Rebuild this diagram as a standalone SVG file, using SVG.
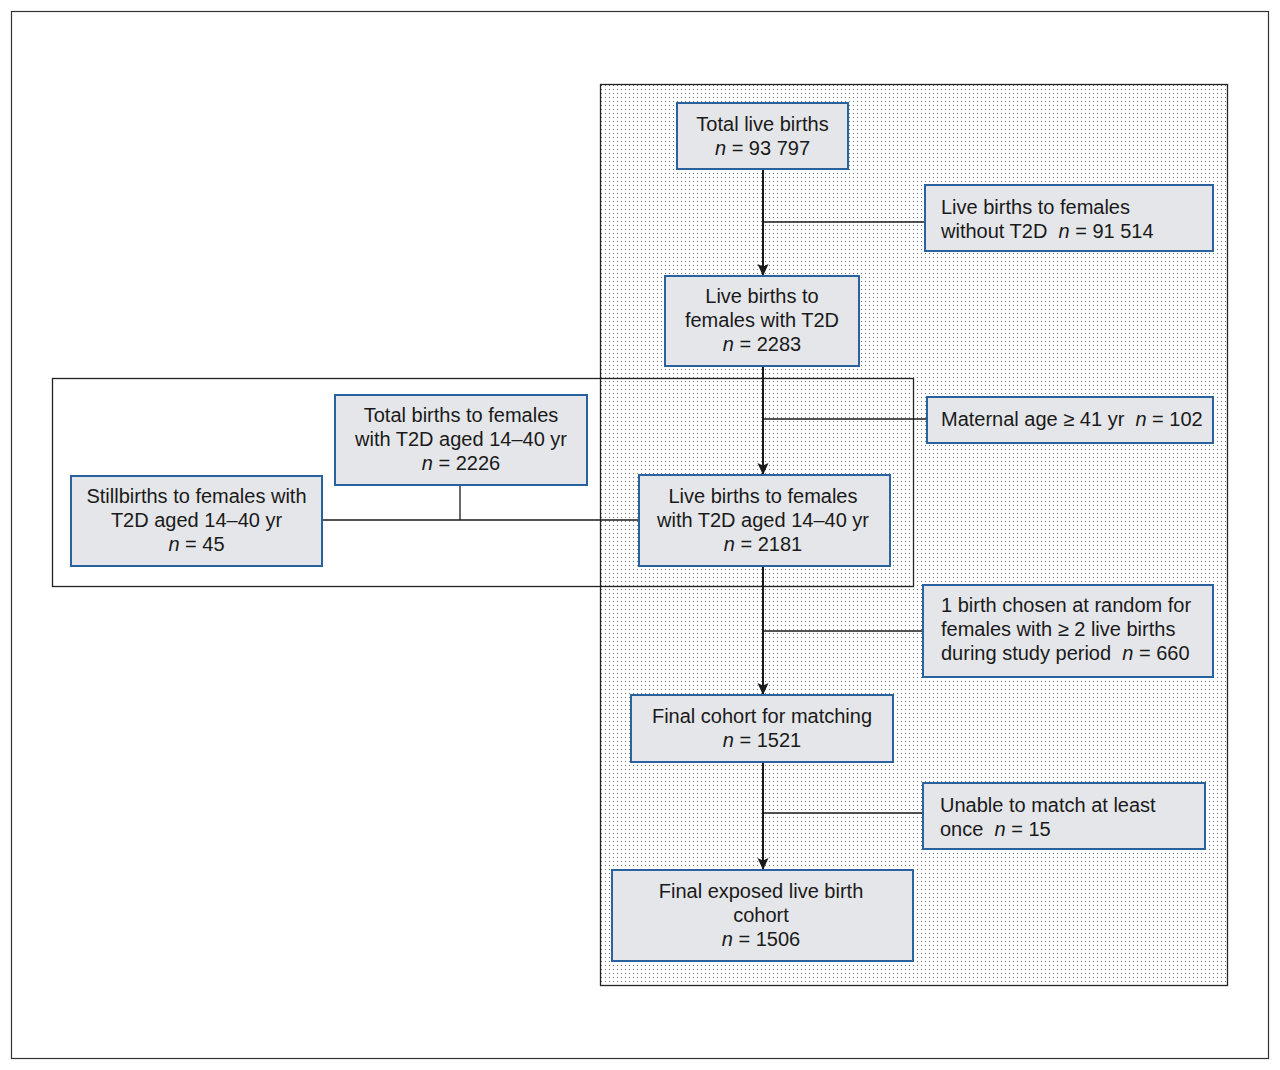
<svg xmlns="http://www.w3.org/2000/svg" width="1280" height="1070" viewBox="0 0 1280 1070">
<defs>
<pattern id="dots" x="0" y="0" width="4" height="4" patternUnits="userSpaceOnUse">
<rect width="4" height="4" fill="#ffffff"/>
<rect x="1" y="1" width="1" height="1" fill="#6e6e6e"/>
</pattern>
<marker id="arr" viewBox="0 0 12 12" refX="11" refY="6" markerWidth="12" markerHeight="12" markerUnits="userSpaceOnUse" orient="auto">
<path d="M0,0.5 L12,6 L0,11.5 L2.5,6 z" fill="#1a1a1a"/>
</marker>
<style>
.box{fill:#e5e6e9;stroke:#2a62a0;stroke-width:2}
.t{font-family:"Liberation Sans",Arial,sans-serif;font-size:20px;fill:#1a1a1a}
.c{text-anchor:middle}
.ln{stroke:#1a1a1a;stroke-width:1.3;fill:none}
.ar{stroke:#1a1a1a;stroke-width:2;fill:none}
</style>
</defs>
<rect x="0" y="0" width="1280" height="1070" fill="#ffffff"/>
<rect x="11.5" y="11.5" width="1257" height="1047" fill="none" stroke="#333" stroke-width="1.2"/>
<rect x="600.5" y="84.5" width="627" height="901" fill="url(#dots)" stroke="#222" stroke-width="1.3"/>
<rect x="52.5" y="378.5" width="861" height="208" fill="none" stroke="#222" stroke-width="1.3"/>

<g id="connectors">
<line class="ar" x1="763" y1="169" x2="763" y2="275" marker-end="url(#arr)"/>
<line class="ln" x1="763" y1="222" x2="925" y2="222"/>
<line class="ar" x1="763" y1="366" x2="763" y2="474" marker-end="url(#arr)"/>
<line class="ln" x1="763" y1="419" x2="927" y2="419"/>
<line class="ar" x1="763" y1="566" x2="763" y2="694" marker-end="url(#arr)"/>
<line class="ln" x1="763" y1="631" x2="923" y2="631"/>
<line class="ar" x1="763" y1="762" x2="763" y2="869" marker-end="url(#arr)"/>
<line class="ln" x1="763" y1="813" x2="923" y2="813"/>
<line class="ln" x1="322" y1="520" x2="639" y2="520"/>
<line class="ln" x1="460" y1="485" x2="460" y2="520"/>
</g>

<g id="n1"><rect class="box" x="677" y="103" width="171" height="66"/>
<text class="t c" x="762.5" y="131">Total live births</text>
<text class="t c" x="762.5" y="155"><tspan font-style="italic">n</tspan> = 93 797</text></g>

<g id="n2"><rect class="box" x="925" y="185" width="288" height="66"/>
<text class="t" x="941" y="214">Live births to females</text>
<text class="t" x="941" y="238" xml:space="preserve">without T2D  <tspan font-style="italic">n</tspan> = 91 514</text></g>

<g id="n3"><rect class="box" x="665" y="276" width="194" height="90"/>
<text class="t c" x="762" y="303">Live births to</text>
<text class="t c" x="762" y="327">females with T2D</text>
<text class="t c" x="762" y="351"><tspan font-style="italic">n</tspan> = 2283</text></g>

<g id="n4"><rect class="box" x="927" y="397" width="286" height="46"/>
<text class="t" x="941" y="426" xml:space="preserve">Maternal age ≥ 41 yr  <tspan font-style="italic">n</tspan> = 102</text></g>

<g id="n5"><rect class="box" x="335" y="395" width="252" height="90"/>
<text class="t c" x="461" y="422">Total births to females</text>
<text class="t c" x="461" y="446">with T2D aged 14–40 yr</text>
<text class="t c" x="461" y="470"><tspan font-style="italic">n</tspan> = 2226</text></g>

<g id="n6"><rect class="box" x="71" y="476" width="251" height="90"/>
<text class="t c" x="196.5" y="503">Stillbirths to females with</text>
<text class="t c" x="196.5" y="527">T2D aged 14–40 yr</text>
<text class="t c" x="196.5" y="551"><tspan font-style="italic">n</tspan> = 45</text></g>

<g id="n7"><rect class="box" x="639" y="475" width="251" height="91"/>
<text class="t c" x="763" y="503">Live births to females</text>
<text class="t c" x="763" y="527">with T2D aged 14–40 yr</text>
<text class="t c" x="763" y="551"><tspan font-style="italic">n</tspan> = 2181</text></g>

<g id="n8"><rect class="box" x="923" y="585" width="290" height="92"/>
<text class="t" x="941" y="612">1 birth chosen at random for</text>
<text class="t" x="941" y="636">females with ≥ 2 live births</text>
<text class="t" x="941" y="660" xml:space="preserve">during study period  <tspan font-style="italic">n</tspan> = 660</text></g>

<g id="n9"><rect class="box" x="631" y="695" width="262" height="67"/>
<text class="t c" x="762" y="723">Final cohort for matching</text>
<text class="t c" x="762" y="747"><tspan font-style="italic">n</tspan> = 1521</text></g>

<g id="n10"><rect class="box" x="923" y="783" width="282" height="66"/>
<text class="t" x="940" y="812">Unable to match at least</text>
<text class="t" x="940" y="836" xml:space="preserve">once  <tspan font-style="italic">n</tspan> = 15</text></g>

<g id="n11"><rect class="box" x="612" y="870" width="301" height="91"/>
<text class="t c" x="761" y="898">Final exposed live birth</text>
<text class="t c" x="761" y="922">cohort</text>
<text class="t c" x="761" y="946"><tspan font-style="italic">n</tspan> = 1506</text></g>
</svg>
